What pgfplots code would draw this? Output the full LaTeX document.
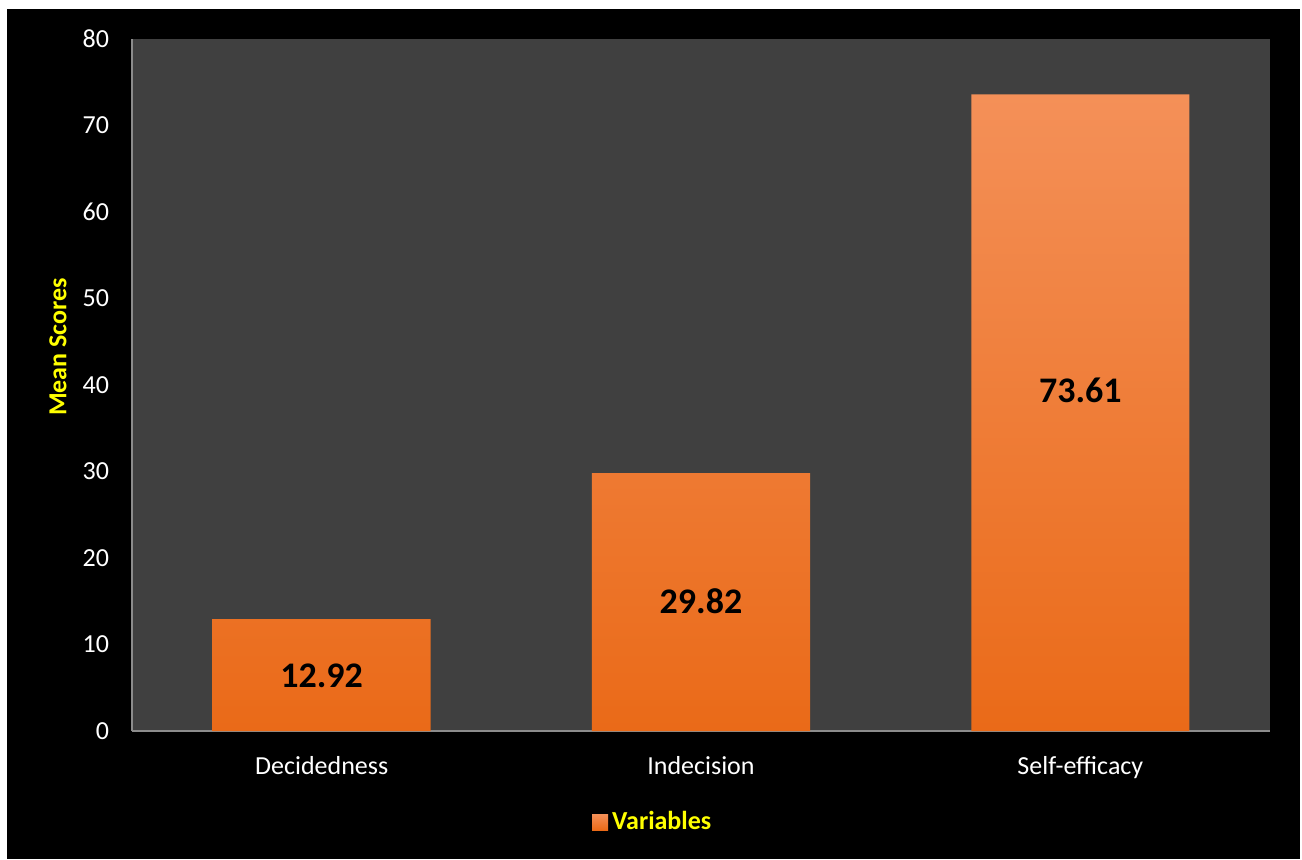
\documentclass[border=0pt]{standalone}
\usepackage{pgfplots}
\pgfplotsset{compat=1.18}
\usepackage{fontspec}
\setmainfont{Carlito}
\definecolor{plotbg}{HTML}{404040}
\definecolor{axgray}{HTML}{8C8C8C}
\definecolor{otop}{HTML}{F49058}
\definecolor{omid}{HTML}{FA7C20}
\definecolor{obot}{HTML}{EA6A18}
\definecolor{oleg}{HTML}{F27D30}
\definecolor{ylw}{HTML}{FFFF00}
\pgfplotstableread{
x y lpos
0 12.92 6.4
1 29.82 15.0
2 73.61 39.4
}\datatable
\begin{document}
\begin{tikzpicture}
\useasboundingbox (0,0) rectangle (651pt,429.5pt);
\fill[white] (0,0) rectangle (651pt,429.5pt);
\fill[black] (3.5pt,0) rectangle (650pt,425pt);
\begin{axis}[
  at={(66pt,64pt)}, anchor=south west,
  scale only axis, width=569pt, height=346pt,
  xmin=-0.5, xmax=2.5, ymin=0, ymax=80,
  ytick={0,10,...,80},
  xtick={0,1,2},
  xticklabels={Decidedness,Indecision,Self-efficacy},
  major tick length=0pt,
  axis x line*=bottom, axis y line*=left,
  axis line style={axgray, line width=0.8pt},
  axis background/.style={fill=plotbg},
  /pgf/number format/assume math mode=true,
  tick label style={font=\fontsize{13}{15}\selectfont, text=white},
  every y tick label/.append style={xshift=-8pt},
  every x tick label/.append style={yshift=-9pt},
  ylabel={Mean Scores},
  every axis y label/.style={at={(axis description cs:0,0.555)}, rotate=90, anchor=center, yshift=37pt, font=\fontsize{13}{15}\selectfont\bfseries, text=ylw},
  legend style={at={(axis description cs:0.4585,-0.1315)}, anchor=center, draw=none, fill=none, text=ylw, font=\fontsize{13}{15}\selectfont\bfseries, inner sep=0pt},
  legend image code/.code={\fill[oleg] (0pt,-4pt) rectangle (8pt,4pt);},
]
\addplot[ybar, bar width=0.575, draw=none, top color=otop, middle color=omid, bottom color=obot,
  nodes near coords,
  visualization depends on=y \as \rawy,
  visualization depends on=\thisrow{lpos} \as \lpos,
  every node near coord/.append style={anchor=center, shift={(axis direction cs:0,\lpos-\rawy)}, font=\fontsize{18}{20}\selectfont\bfseries, text=black},
  /pgf/number format/.cd, fixed, fixed zerofill, precision=2]
  table[x=x, y=y] {\datatable};
\addlegendentry{Variables}
\end{axis}
\end{tikzpicture}
\end{document}
